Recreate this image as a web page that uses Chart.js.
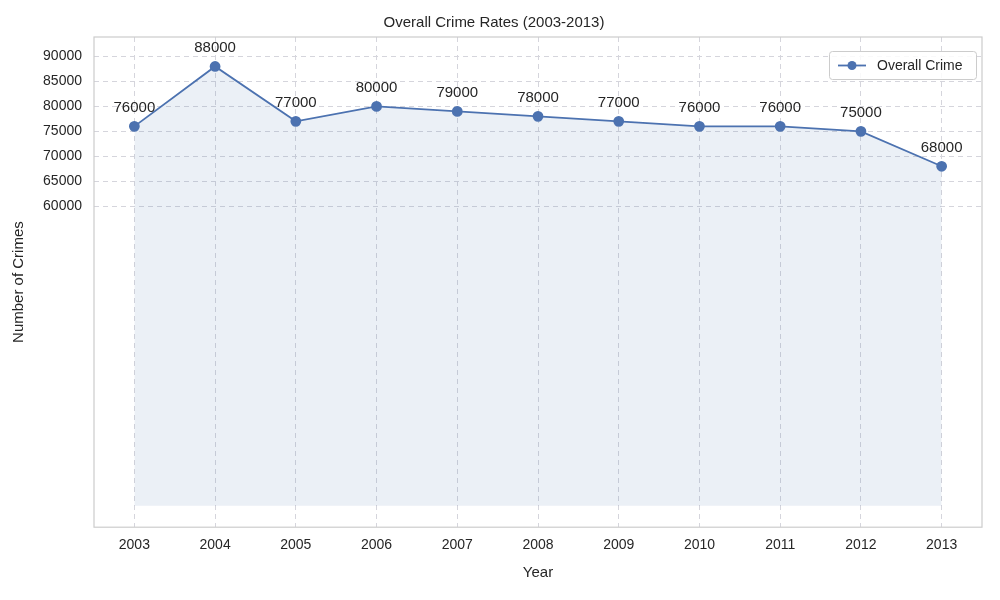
<!DOCTYPE html>
<html>
<head>
<meta charset="utf-8">
<script src="https://cdn.jsdelivr.net/npm/chart.js@4/dist/chart.umd.min.js"></script>
<style>
  body { margin: 0; background: #fff; }
  #wrap { width: 1000px; height: 600px; }
</style>
</head>
<body>
<div id="wrap"><canvas id="myChart" width="1000" height="600"></canvas></div>
<script>
const years = ["2003", "2004", "2005", "2006", "2007", "2008", "2009", "2010", "2011", "2012", "2013"];
const crimes = [76000, 88000, 77000, 80000, 79000, 78000, 77000, 76000, 76000, 75000, 68000];
const yTicks = [60000, 65000, 70000, 75000, 80000, 85000, 90000];

const lineColor = "#4c72b0";
const font = "Liberation Sans";

// value labels above each point
const valueLabels = {
  id: "valueLabels",
  afterDatasetsDraw(chart) {
    const ctx = chart.ctx;
    const meta = chart.getDatasetMeta(0);
    ctx.save();
    ctx.font = "15px " + font;
    ctx.fillStyle = "#262626";
    ctx.textAlign = "center";
    ctx.textBaseline = "alphabetic";
    meta.data.forEach((pt, i) => {
      ctx.fillText(String(crimes[i]), pt.x, pt.y - 14);
    });
    ctx.restore();
  }
};

// legend box in upper right
const legendBox = {
  id: "legendBox",
  afterDraw(chart) {
    const ctx = chart.ctx;
    const a = chart.chartArea;
    const w = 147, h = 28;
    const x = a.right - w - 6, y = a.top + 14;
    ctx.save();
    ctx.fillStyle = "rgba(255,255,255,0.85)";
    ctx.strokeStyle = "#cccccc";
    ctx.lineWidth = 1;
    ctx.beginPath();
    ctx.roundRect(x + 0.5, y + 0.5, w, h, 3);
    ctx.fill();
    ctx.stroke();
    ctx.strokeStyle = lineColor;
    ctx.lineWidth = 1.8;
    ctx.beginPath();
    ctx.moveTo(x + 9, y + h / 2 + 0.5);
    ctx.lineTo(x + 37, y + h / 2 + 0.5);
    ctx.stroke();
    ctx.fillStyle = lineColor;
    ctx.beginPath();
    ctx.arc(x + 23, y + h / 2 + 0.5, 4.5, 0, Math.PI * 2);
    ctx.fill();
    ctx.fillStyle = "#262626";
    ctx.font = "14px " + font;
    ctx.textBaseline = "middle";
    ctx.fillText("Overall Crime", x + 48, y + h / 2 + 1);
    ctx.restore();
  }
};

// white background and frame
const frame = {
  id: "frame",
  beforeDraw(chart) {
    const ctx = chart.ctx;
    ctx.save();
    ctx.fillStyle = "#ffffff";
    ctx.fillRect(0, 0, chart.width, chart.height);
    ctx.restore();
  },
  afterDatasetsDraw(chart) {
    const a = chart.chartArea;
    const ctx = chart.ctx;
    ctx.save();
    ctx.strokeStyle = "#cccccc";
    ctx.lineWidth = 1.2;
    ctx.strokeRect(a.left, a.top, a.right - a.left, a.bottom - a.top);
    ctx.restore();
  }
};

const ctx = document.getElementById("myChart");
const myChart = new Chart(ctx, {
  type: "line",
  data: {
    labels: years,
    datasets: [
      {
        label: "Overall Crime",
        data: crimes,
        borderColor: lineColor,
        backgroundColor: "rgba(76,114,176,0.11)",
        borderWidth: 1.8,
        pointRadius: 4.5,
        pointHoverRadius: 4.5,
        pointBackgroundColor: lineColor,
        pointBorderColor: lineColor,
        fill: "origin",
        tension: 0,
      },
    ],
  },
  options: {
    responsive: false,
    animation: false,
    devicePixelRatio: 1,
    layout: { padding: { top: 0, right: 18, left: 6, bottom: 14 } },
    plugins: {
      legend: { display: false },
      tooltip: { enabled: false },
      title: {
        display: true,
        text: "Overall Crime Rates (2003-2013)",
        color: "#262626",
        font: { family: font, size: 15, weight: "normal" },
        padding: { top: 14, bottom: 5 },
      },
    },
    scales: {
      x: {
        offset: true,
        grid: { color: "#d5d5dc", offset: false, drawTicks: false },
        border: { display: false, dash: [5, 4] },
        ticks: { color: "#262626", font: { family: font, size: 14 }, padding: 10 },
        title: { display: true, text: "Year", color: "#262626", font: { family: font, size: 15 }, padding: { top: 0 } },
      },
      y: {
        min: -4300,
        max: 93900,
        afterBuildTicks(axis) {
          axis.ticks = yTicks.map(v => ({ value: v }));
        },
        afterFit(axis) { axis.width = 88; },
        grid: { color: "#d5d5dc", drawTicks: false },
        border: { display: false, dash: [5, 4] },
        ticks: { color: "#262626", font: { family: font, size: 14 }, padding: 12, callback: v => String(v) },
        title: { display: true, text: "Number of Crimes", color: "#262626", font: { family: font, size: 15 }, padding: { bottom: 6 } },
      },
    },
  },
  plugins: [frame, valueLabels, legendBox],
});
</script>
</body>
</html>
